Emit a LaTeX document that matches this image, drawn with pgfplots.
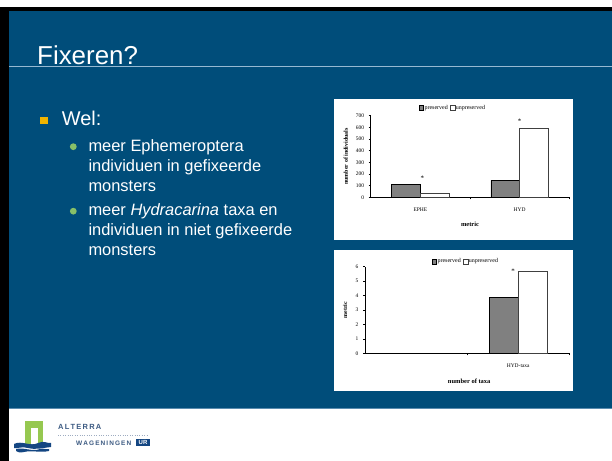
\documentclass[border=0pt]{standalone}
\usepackage{fontspec}
\setmainfont{Liberation Sans}
\newfontfamily\timesf{Liberation Serif}
\usepackage{pgfplots}
\pgfplotsset{compat=1.18}
\definecolor{slideblue}{RGB}{0,77,122}
\definecolor{lineblue}{RGB}{150,185,210}
\definecolor{lowline}{RGB}{90,140,175}
\definecolor{bulyellow}{RGB}{240,180,0}
\definecolor{bulgreen}{RGB}{136,192,104}
\definecolor{bargray}{RGB}{128,128,128}
\definecolor{logogreen}{RGB}{150,200,80}
\definecolor{logoblue}{RGB}{20,70,130}
\definecolor{logotext}{RGB}{60,90,130}
\pgfplotsset{
  slidechart/.style={
    scale only axis, anchor=south west,
    xmin=-0.5, xmax=1.5, ymin=0,
    axis x line*=bottom, axis y line*=left,
    axis line style={black, line width=0.8bp, -},
    tick style={black, line width=0.6bp},
    tick align=outside, major tick length=2bp,
    xtick={0.5,1.5}, xticklabels={},
    extra x tick style={major tick length=0pt},
    /pgf/number format/assume math mode=true,
    tick label style={font=\timesf\fontsize{5.5}{6}\selectfont},
    yticklabel style={xshift=-1bp},
    ybar=0pt, bar width=28.8bp,
    legend columns=2,
    legend style={draw=none, fill=none, font=\timesf\fontsize{6}{6}\selectfont, anchor=center,
      /tikz/every even column/.append style={column sep=1.5bp}, inner sep=0pt,
      nodes={inner xsep=0.6bp}},
    legend image code/.code={\draw[#1, line width=0.5bp] (0bp,-2.4bp) rectangle (4.8bp,2.4bp);},
    ylabel style={font=\timesf\bfseries\fontsize{6}{6}\selectfont, anchor=center},
    xlabel style={font=\timesf\bfseries\fontsize{6.5}{7}\selectfont, anchor=center},
  }
}
\begin{document}
\begin{tikzpicture}[x=1bp,y=1bp]
\path[use as bounding box] (0,0) rectangle (612,461);
\fill[white] (0,0) rectangle (612,461);
\fill[black] (0,0) rectangle (9,454);
\fill[black] (0,450) rectangle (612,454);
\fill[slideblue] (9,53) rectangle (612,450);
\draw[lowline, line width=1bp] (9,52.8) -- (612,52.8);
\draw[lineblue, line width=1bp] (9,394.5) -- (612,394.5);
% title
\node[anchor=base west, inner sep=0pt, text=white, font=\fontsize{26}{30}\selectfont] at (37,396.3) {Fixeren?};
% bullets
\fill[bulyellow] (40,337) rectangle (47.5,344.3);
\node[anchor=base west, inner sep=0pt, text=white, font=\fontsize{20}{24}\selectfont] at (61.7,335) {Wel:};
\fill[bulgreen] (73.3,314.3) circle (3.4);
\fill[bulgreen] (73.3,249.8) circle (3.4);
\begin{scope}[every node/.style={anchor=base west, inner sep=0pt, text=white, font=\fontsize{16.5}{20}\selectfont}]
\node at (88.3,309.5) {meer Ephemeroptera};
\node at (88.3,289.5) {individuen in gefixeerde};
\node at (88.3,269.5) {monsters};
\node at (88.3,245) {meer \textit{Hydracarina} taxa en};
\node at (88.3,225) {individuen in niet gefixeerde};
\node at (88.3,205) {monsters};
\end{scope}
% chart panels
\fill[white] (334,221) rectangle (573,362);
\fill[white] (334,70) rectangle (573,211);
% logo
\fill[logogreen] (25,17) rectangle (43,40);
\fill[white] (30.5,17) rectangle (37.5,33);
\fill[logoblue] (14,17) .. controls (22,21) and (30,14) .. (38,18) .. controls (44,21) and (48,17) .. (51,18) -- (51,14) .. controls (42,13) and (36,11) .. (28,13) .. controls (22,15) and (17,12) .. (14,13) -- cycle;
\fill[logoblue] (16,12) .. controls (24,14) and (32,9) .. (40,12) .. controls (44,13) and (47,11) .. (49,12) -- (49,10) .. controls (40,8) and (32,11) .. (24,9) .. controls (20,8) and (17,9) .. (16,10) -- cycle;
\node[anchor=base west, inner sep=0pt, text=logotext, font=\bfseries\fontsize{7.5}{8}\selectfont] at (58,31) {A\,L\,T\,E\,R\,R\,A};
\draw[logotext!50, dotted, line width=0.4bp] (58,26) -- (148,26);
\node[anchor=base west, inner sep=0pt, text=logotext, font=\bfseries\fontsize{6.5}{7}\selectfont] at (76,15.5) {W\,A\,G\,E\,N\,I\,N\,G\,E\,N};
\fill[logoblue] (136,14.5) rectangle (150,22);
\node[anchor=base, inner sep=0pt, text=white, font=\bfseries\fontsize{6}{6}\selectfont] at (143,16) {UR};
% chart 1
\begin{axis}[slidechart, at={(370.7bp,263.7bp)}, width=198.6bp, height=81.6bp,
  ymax=700, ytick={0,100,...,700},
  extra x ticks={0,1}, extra x tick labels={EPHE,HYD},
  xticklabel style={yshift=-7bp},
  legend style={at={(0.41,1.094)}},
  ylabel={number of individuals}, ylabel style={at={(rel axis cs:-0.125,0.5)}},
  xlabel={metric}, xlabel style={at={(rel axis cs:0.5,-0.33)}},
]
\addplot[fill=bargray, draw=black, line width=0.7bp] coordinates {(0,112) (1,145)};
\addplot[fill=white, draw=black!75, line width=0.7bp] coordinates {(0,30) (1,590)};
\legend{preserved,unpreserved}
\node[font=\timesf\fontsize{7}{7}\selectfont, inner sep=0pt] at (axis cs:0.02,160) {*};
\node[font=\timesf\fontsize{7}{7}\selectfont, inner sep=0pt] at (axis cs:1.0,655) {*};
\end{axis}
% chart 2
\begin{axis}[slidechart, at={(365bp,107.7bp)}, width=204.3bp, height=86.6bp,
  ymax=6, ytick={0,1,...,6},
  extra x ticks={1}, extra x tick labels={HYD-taxa},
  xticklabel style={yshift=-7bp},
  legend style={at={(0.49,1.058)}},
  ylabel={metric}, ylabel style={at={(rel axis cs:-0.098,0.5)}},
  xlabel={number of taxa}, xlabel style={at={(rel axis cs:0.51,-0.32)}},
]
\addplot[fill=bargray, draw=black, line width=0.7bp] coordinates {(1,3.88)};
\addplot[fill=white, draw=black!75, line width=0.7bp] coordinates {(1,5.7)};
\legend{preserved,unpreserved}
\node[font=\timesf\fontsize{7}{7}\selectfont, inner sep=0pt] at (axis cs:0.95,5.72) {*};
\end{axis}
\end{tikzpicture}
\end{document}
